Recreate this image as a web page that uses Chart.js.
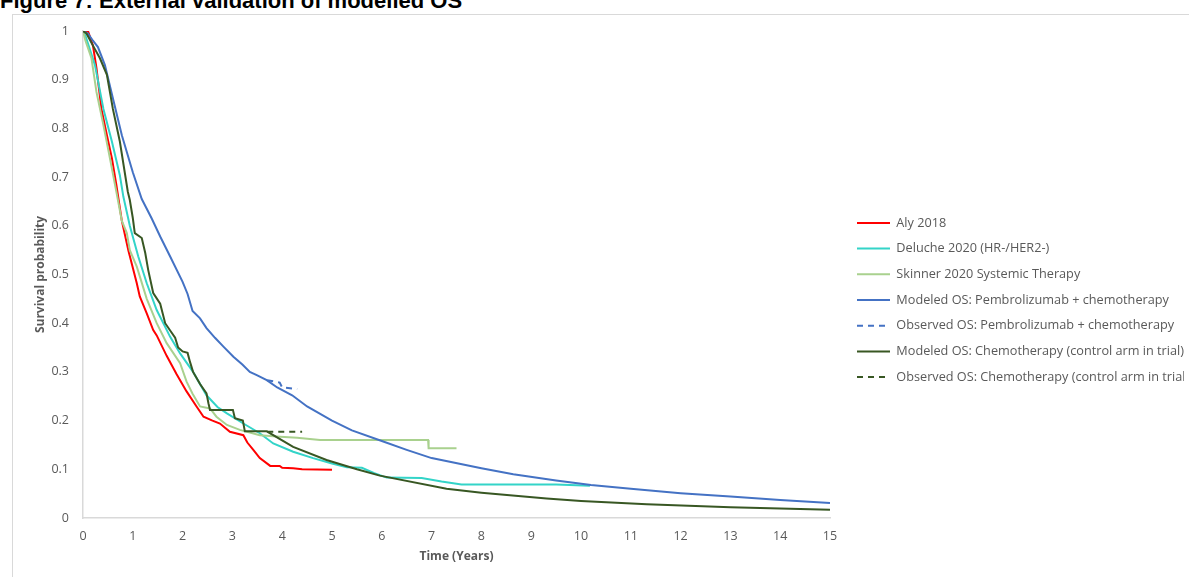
<!DOCTYPE html>
<html>
<head>
<meta charset="utf-8">
<script src="https://cdn.jsdelivr.net/npm/chart.js@4.4.1/dist/chart.umd.min.js"></script>
<style>
  html, body { margin: 0; padding: 0; background: #fff; overflow: hidden; }
  body { width: 1189px; height: 577px; position: relative; }
  #title { position: absolute; left: 0; top: -10px; font: bold 22px/22px "Liberation Sans", Arial, sans-serif; color: #000; white-space: nowrap; }
  #frame { position: absolute; left: 12px; top: 14px; width: 1250px; height: 650px; border: 1px solid #d9d9d9; }
  #chart { position: absolute; left: 0; top: 0; }
</style>
</head>
<body>
<div id="title">Figure 7: External validation of modelled OS</div>
<div id="frame"></div>
<canvas id="chart" width="1200" height="577"></canvas>
<script>
// tick labels
const xTicks = ['0','1','2','3','4','5','6','7','8','9','10','11','12','13','14','15'];
const yTicks = ['0','0.1','0.2','0.3','0.4','0.5','0.6','0.7','0.8','0.9','1'];

// Aly 2018
const alyT = [0, 0.1, 0.2, 0.27, 0.37, 0.48, 0.58, 0.67, 0.78, 0.91, 1.08, 1.14, 1.28, 1.41, 1.48, 1.68, 1.88, 2.08, 2.28, 2.42, 2.6, 2.75, 2.95, 3.22, 3.3, 3.42, 3.55, 3.76, 3.95, 4.0, 4.22, 4.4, 5.0];
const alyS = [1, 1.0, 0.97, 0.924, 0.84, 0.786, 0.739, 0.684, 0.61, 0.55, 0.482, 0.455, 0.42, 0.386, 0.375, 0.333, 0.295, 0.26, 0.229, 0.208, 0.2, 0.194, 0.177, 0.17, 0.155, 0.14, 0.123, 0.107, 0.107, 0.103, 0.102, 0.1, 0.099];

// Deluche 2020 (HR-/HER2-)
const delT = [0, 0.05, 0.24, 0.41, 0.58, 0.74, 0.81, 0.94, 1.11, 1.28, 1.48, 1.75, 1.95, 2.21, 2.48, 2.7, 2.89, 3.22, 3.55, 3.82, 4.22, 4.62, 5.0, 5.3, 5.6, 5.85, 6.1, 6.8, 7.2, 7.6, 9.5, 10.18];
const delS = [1, 0.99, 0.93, 0.84, 0.773, 0.704, 0.66, 0.6, 0.537, 0.482, 0.427, 0.372, 0.338, 0.3, 0.252, 0.228, 0.215, 0.194, 0.174, 0.153, 0.136, 0.123, 0.112, 0.104, 0.103, 0.092, 0.083, 0.082, 0.075, 0.069, 0.069, 0.066];

// Skinner 2020 Systemic Therapy
const skiT = [0, 0.05, 0.17, 0.27, 0.41, 0.54, 0.67, 0.78, 0.88, 0.94, 1.08, 1.28, 1.48, 1.68, 1.95, 2.08, 2.2, 2.35, 2.55, 2.68, 2.89, 3.15, 3.55, 3.96, 4.3, 4.76, 6.93, 6.94, 7.5];
const skiS = [1, 0.98, 0.944, 0.875, 0.807, 0.739, 0.67, 0.61, 0.585, 0.55, 0.516, 0.45, 0.4, 0.359, 0.318, 0.28, 0.255, 0.229, 0.225, 0.208, 0.191, 0.181, 0.17, 0.167, 0.165, 0.16, 0.16, 0.143, 0.143];

// Modeled OS: Pembrolizumab + chemotherapy
const pemT = [0, 0.1, 0.2, 0.3, 0.44, 0.6, 0.78, 1.0, 1.18, 1.38, 1.55, 1.75, 2.0, 2.1, 2.2, 2.35, 2.48, 2.65, 2.82, 3.02, 3.2, 3.35, 3.5, 3.69, 3.9, 4.2, 4.5, 5.0, 5.4, 6.0, 6.5, 7.0, 8.0, 8.64, 9.5, 10.2, 11.0, 12.0, 13.0, 14.0, 15.0];
const pemS = [1, 0.995, 0.98, 0.967, 0.93, 0.862, 0.786, 0.71, 0.655, 0.615, 0.578, 0.537, 0.485, 0.46, 0.425, 0.41, 0.39, 0.37, 0.352, 0.331, 0.315, 0.3, 0.293, 0.283, 0.268, 0.252, 0.229, 0.2, 0.18, 0.158, 0.14, 0.123, 0.102, 0.09, 0.077, 0.068, 0.06, 0.051, 0.044, 0.037, 0.031];

// Observed OS: Pembrolizumab + chemotherapy
const pemObsT = [3.7, 3.95, 4.0, 4.3];
const pemObsS = [0.283, 0.278, 0.268, 0.265];

// Modeled OS: Chemotherapy (control arm in trial)
const chemoT = [0, 0.07, 0.2, 0.34, 0.48, 0.6, 0.74, 0.9, 0.94, 1.0, 1.04, 1.18, 1.25, 1.31, 1.41, 1.55, 1.65, 1.75, 1.85, 1.91, 2.0, 2.1, 2.15, 2.21, 2.35, 2.48, 2.52, 2.55, 3.01, 3.05, 3.21, 3.25, 3.69, 4.22, 4.89, 5.5, 5.96, 7.3, 8.0, 9.31, 10.0, 11.32, 13.0, 15.0];
const chemoS = [1, 0.995, 0.97, 0.944, 0.91, 0.84, 0.773, 0.67, 0.653, 0.616, 0.585, 0.575, 0.544, 0.509, 0.462, 0.44, 0.4, 0.385, 0.37, 0.35, 0.342, 0.339, 0.32, 0.3, 0.275, 0.256, 0.235, 0.222, 0.222, 0.205, 0.2, 0.178, 0.178, 0.146, 0.119, 0.1, 0.087, 0.06, 0.052, 0.04, 0.035, 0.028, 0.022, 0.017];

// Observed OS: Chemotherapy (control arm in trial)
const chemoObsT = [3.7, 4.4];
const chemoObsS = [0.177, 0.177];

const pts = (t, s) => t.map((v, i) => ({ x: v, y: s[i] }));

const tickFont = { family: '"Open Sans", sans-serif', size: 12.5 };
const titleFont = { family: '"Open Sans", sans-serif', size: 12, weight: 'bold' };

// move legend a bit off the plot area
const legendShift = {
    id: 'legendShift',
    afterLayout(chart) {
        const l = chart.legend;
        l.left += 14; l.right += 14;
        l.top -= 4; l.bottom -= 4;
    }
};

new Chart(document.getElementById('chart'), {
    type: 'line',
    data: {
        datasets: [
            { label: 'Aly 2018', data: pts(alyT, alyS), borderColor: '#ff0000', borderWidth: 2, order: 6 },
            { label: 'Deluche 2020 (HR-/HER2-)', data: pts(delT, delS), borderColor: '#33d4c8', borderWidth: 2, order: 5 },
            { label: 'Skinner 2020 Systemic Therapy', data: pts(skiT, skiS), borderColor: '#a9d18e', borderWidth: 2, order: 4 },
            { label: 'Modeled OS: Pembrolizumab + chemotherapy', data: pts(pemT, pemS), borderColor: '#4472c4', borderWidth: 2, order: 3 },
            { label: 'Observed OS: Pembrolizumab + chemotherapy', data: pts(pemObsT, pemObsS), borderColor: '#4472c4', borderWidth: 2, borderDash: [6, 5], order: 2 },
            { label: 'Modeled OS: Chemotherapy (control arm in trial)', data: pts(chemoT, chemoS), borderColor: '#385723', borderWidth: 2, order: 1 },
            { label: 'Observed OS: Chemotherapy (control arm in trial)', data: pts(chemoObsT, chemoObsS), borderColor: '#385723', borderWidth: 2, borderDash: [6, 5], order: 0 }
        ]
    },
    options: {
        responsive: false,
        animation: false,
        elements: { point: { radius: 0 }, line: { tension: 0 } },
        layout: { padding: { top: 31, right: 30, left: 0, bottom: 0 } },
        plugins: {
            tooltip: { enabled: false },
            legend: {
                position: 'right',
                maxWidth: 340,
                labels: {
                    usePointStyle: true,
                    pointStyle: 'line',
                    pointStyleWidth: 33,
                    padding: 13,
                    color: '#595959',
                    font: { family: '"Open Sans", sans-serif', size: 12.7 },
                    sort: (a, b) => a.datasetIndex - b.datasetIndex,
                    generateLabels: chart => Chart.defaults.plugins.legend.labels.generateLabels(chart).map(item => {
                        const ds = chart.data.datasets[item.datasetIndex];
                        item.lineDash = ds.borderDash || [];
                        item.lineWidth = 2;
                        item.strokeStyle = ds.borderColor;
                        return item;
                    })
                }
            }
        },
        scales: {
            x: {
                type: 'linear', min: 0, max: 15,
                afterBuildTicks: axis => { axis.ticks = xTicks.map(v => ({ value: Number(v) })); },
                afterFit: axis => { axis.height = 59; },
                grid: { display: false, drawTicks: false },
                border: { color: '#d9d9d9', width: 1.5 },
                ticks: { callback: (v, i) => xTicks[i], color: '#595959', font: tickFont, padding: 11, maxRotation: 0, autoSkip: false },
                title: { display: true, text: 'Time (Years)', color: '#595959', font: titleFont, padding: { top: 0, bottom: 13 } }
            },
            y: {
                type: 'linear', min: 0, max: 1,
                afterBuildTicks: axis => { axis.ticks = yTicks.map(v => ({ value: Number(v) })); },
                afterFit: axis => { axis.width = 83; },
                grid: { display: false, drawTicks: false },
                border: { color: '#d9d9d9', width: 1.5 },
                ticks: { callback: (v, i) => yTicks[i], color: '#595959', font: tickFont, padding: 14, autoSkip: false },
                title: { display: true, text: 'Survival probability', color: '#595959', font: titleFont, padding: { top: 33, bottom: 0 } }
            }
        }
    },
    plugins: [legendShift]
});
</script>
</body>
</html>
